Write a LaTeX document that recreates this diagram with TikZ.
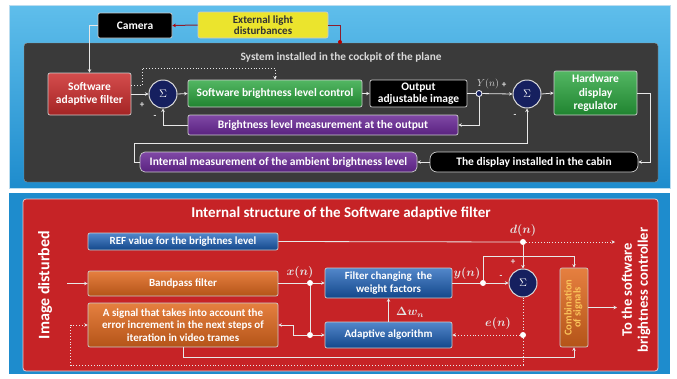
\documentclass[tikz,border=0pt]{standalone}
\usepackage{fontspec}
\setmainfont{Carlito}
\usepackage{amsmath,bm}
\usetikzlibrary{arrows.meta,positioning,calc}
\definecolor{skyblue}{RGB}{30,140,205}
\definecolor{skylight}{RGB}{95,190,235}
\definecolor{cockpit}{RGB}{58,58,58}
\definecolor{boxred}{RGB}{205,45,45}
\definecolor{boxgreen}{RGB}{40,165,60}
\definecolor{boxpurple}{RGB}{105,40,150}
\definecolor{boxyellow}{RGB}{235,228,45}
\definecolor{sumnavy}{RGB}{22,32,95}
\definecolor{panelred}{RGB}{198,35,38}
\definecolor{boxblue}{RGB}{25,95,185}
\definecolor{boxorange}{RGB}{225,105,30}
\definecolor{combtext}{RGB}{250,195,90}
\definecolor{wire}{RGB}{232,232,232}
\definecolor{lightwire}{RGB}{140,30,45}
\begin{document}
\begin{tikzpicture}[x=1pt,y=-1pt,
    box/.style={draw=white!80!black, line width=0.7pt, rounded corners=2pt, text=white,
      font=\bfseries\fontsize{11.5}{12.5}\selectfont, align=center, inner sep=1pt},
    smallbox/.style={box, font=\bfseries\fontsize{11}{12.5}\selectfont},
    redbox/.style={box, top color=boxred!85!white, bottom color=boxred!80!black},
    greenbox/.style={box, top color=boxgreen!80!white, bottom color=boxgreen!80!black},
    purplebox/.style={box, top color=boxpurple!85!white, bottom color=boxpurple!85!black},
    blackbox/.style={box, fill=black},
    bluebox/.style={smallbox, top color=boxblue!75!white, bottom color=boxblue!75!black},
    orangebox/.style={smallbox, top color=boxorange!85!white, bottom color=boxorange!80!black},
    sumnode/.style={circle, draw=white!85!black, line width=1pt, fill=sumnavy, text=white,
      minimum size=28pt, inner sep=0pt, font=\fontsize{11}{11}\selectfont},
    dot/.style={circle, fill=white, minimum size=6pt, inner sep=0pt},
    wline/.style={draw=wire, line width=0.8pt},
    dotline/.style={draw=wire, line width=0.9pt, dotted},
    tip/.style={-{Stealth[length=3.5pt,width=3.5pt]}},
    sign/.style={text=wire, font=\bfseries\fontsize{9}{9}\selectfont, inner sep=0pt},
    siglabel/.style={text=white!90!black, font=\boldmath\fontsize{11.5}{11.5}\selectfont, inner sep=0pt}]
\useasboundingbox (0,0) rectangle (677,378);
\fill[white] (0,0) rectangle (677,378);

% top panel: system in the cockpit
\shade[top color=skylight, bottom color=skyblue, draw=white!70!skyblue] (9,5) rectangle (670,188);
\fill[cockpit, draw=white!60!black, rounded corners=3pt] (24,43) rectangle (658,182);
\node[text=white!85!black, font=\bfseries\fontsize{11.3}{12}\selectfont] (systitle) at (341,57) {System installed in the cockpit of the plane};

\node[blackbox, minimum width=74pt, minimum height=25pt] (cam) at (135,25.5) {Camera};
\node[box, fill=boxyellow, text=black!80, minimum width=130pt, minimum height=26pt, font=\bfseries\fontsize{11}{11.5}\selectfont] (ext) at (263,25) {External light\\disturbances};
\node[redbox, minimum width=83pt, minimum height=42pt] (saf) at (89.5,94) {Software\\adaptive filter};
\node[sumnode] (sumA) at (163,94) {$\Sigma$};
\node[greenbox, minimum width=174pt, minimum height=27pt] (ctrl) at (275,93.5) {Software brightness level control};
\node[blackbox, minimum width=97pt, minimum height=27pt, font=\bfseries\fontsize{11.5}{11.5}\selectfont] (out) at (418.5,93.5) {Output\\adjustable image};
\node[circle, fill=sumnavy, draw=white, line width=0.8pt, minimum size=6pt, inner sep=0pt] (ynode) at (479,93.5) {};
\node[sumnode] (sumB) at (527,94) {$\Sigma$};
\node[greenbox, minimum width=83pt, minimum height=44pt, font=\bfseries\fontsize{11.5}{13.5}\selectfont] (hw) at (595.5,93) {Hardware\\display\\regulator};
\node[purplebox, minimum width=270pt, minimum height=20pt] (meas) at (323,125) {Brightness level measurement at the output};
\node[purplebox, rounded corners=5pt, minimum width=277pt, minimum height=20pt] (amb) at (278.5,162) {Internal measurement of the ambient brightness level};
\node[blackbox, rounded corners=7pt, minimum width=208pt, minimum height=20pt] (disp) at (534,162) {The display installed in the cabin};

\coordinate (lightin) at (340,42);
\draw[draw=lightwire, line width=1pt, -{Stealth[length=3.5pt,width=3.5pt,red!70!black]}] (ext.west) -- (cam.east);
\draw[draw=lightwire, line width=1pt] (ext.east) -| (lightin);
\fill[red!70!black] (lightin) circle (2pt);
\draw[wline, tip] (cam.west) -| (saf.north);
\draw[wline, tip] (saf.east) -- (sumA.west);
\draw[dotline, tip] ($(saf.east)+(0,-9)$) -- ++(11,0) |- (ctrl.north |- 0,68) -- (ctrl.north);
\draw[wline, tip] (sumA.east) -- (ctrl.west);
\draw[wline, tip] (ctrl.east) -- (out.west);
\draw[wline] (out.east) -- (ynode);
\draw[wline, tip] (ynode) -- (sumB.west);
\draw[wline, tip] (sumB.east) -- (hw.west);
\draw[wline, tip] (ynode) |- (meas.east);
\draw[wline, tip] (meas.west) -| (sumA.south);
\draw[wline, tip] (hw.east) -- ++(13,0) |- (disp.east);
\draw[wline, tip] (disp.west) -- (amb.east);
\draw[wline, tip] (amb.west) -- ++(-5,0) |- ($(sumB.south)+(0,35)$) -- (sumB.south);

\node[sign] at (142,105) {+};
\node[sign] at (155,117) {-};
\node[sign] at (504,85) {+};
\node[sign] at (515,116) {-};
\node[text=white!85!black, font=\fontsize{10}{10}\selectfont, inner sep=0pt] (ylabel) at (488,84) {$Y(n)$};

% bottom panel: internal structure of the filter
\fill[skyblue] (9,193) rectangle (670,374);
\fill[panelred, draw=white!75!panelred, line width=0.8pt, rounded corners=3pt] (23,199) rectangle (658,371);
\node[text=white, font=\bfseries\fontsize{15}{15}\selectfont] (inttitle) at (341,213) {Internal structure of the Software adaptive filter};
\node[text=white, font=\bfseries\fontsize{16}{16}\selectfont, rotate=90] (imgdist) at (45,285) {Image disturbed};
\node[text=white, font=\bfseries\fontsize{14.5}{16}\selectfont, rotate=90, align=center] (toctl) at (636,290) {To the software\\brightness controller};

\node[bluebox, minimum width=190pt, minimum height=17pt] (ref) at (183,241.5) {REF value for the brightnes level};
\node[orangebox, minimum width=190pt, minimum height=25pt] (bp) at (183,283.5) {Bandpass filter};
\node[orangebox, minimum width=190pt, minimum height=44pt] (sig) at (183,325) {A signal that takes into account the\\error increment in the next steps of\\iteration in video trames};
\node[bluebox, minimum width=127pt, minimum height=30pt] (wf) at (388.5,283) {Filter changing\ \ the\\weight factors};
\node[bluebox, minimum width=127pt, minimum height=26pt] (ad) at (388.5,335) {Adaptive algorithm};
\node[sumnode] (sumC) at (523,283) {$\Sigma$};
\node[orangebox, minimum width=28pt, minimum height=79pt, text=combtext, font=\bfseries\fontsize{10.5}{11}\selectfont] (comb) at (574,307.5)
  {\rotatebox{90}{\begin{tabular}{@{}c@{}}Combination\\[-2pt]of signals\end{tabular}}};

\node[dot] (dnode) at (523,242) {};
\node[dot] (xnode) at (310,283) {};
\node[dot] (xjunc) at (310,335) {};
\node[dot] (yfork) at (483,283) {};
\node[dot] (enode) at (523,335) {};
\coordinate (imgin) at (67,283.5);
\coordinate (refout) at (615,242);
\coordinate (combout) at (617,307.5);

\draw[wline, tip] (imgin) -- (bp.west);
\draw[wline] (ref.east) -- (dnode);
\draw[dotline, tip] (dnode) -- (refout);
\draw[wline, tip] (dnode) -- (sumC.north);
\draw[wline] (bp.east |- xnode) -- (xnode);
\draw[wline, tip] (xnode) -- (wf.west);
\draw[wline] (xnode) -- (xjunc);
\draw[wline, tip] (xjunc) -- (ad.west);
\draw[wline, tip] (xjunc) -- ++(-17,0) |- (sig.east);
\draw[wline, tip] (ad.north) -- (wf.south);
\draw[wline] (wf.east) -- (yfork);
\draw[wline, tip] (yfork) -- (sumC.west);
\draw[wline, tip] (yfork) -- ++(0,-27) -| (comb.north);
\draw[dotline] (sumC.south) -- (enode);
\draw[dotline, tip] (enode) -- (ad.east);
\draw[dotline, tip] (enode) -- ++(0,30) -| ($(sig.west)+(-17,0)$) -- (sig.west);
\draw[wline, tip] (sig.south) -- ++(0,10) -| (comb.south);
\draw[wline, tip] (comb.east) -- (combout);

\node[siglabel] (dlabel) at (523,230) {$d(n)$};
\node[siglabel] (xlabel) at (300,272) {$x(n)$};
\node[siglabel] (ylab) at (467,273) {$y(n)$};
\node[siglabel] (elabel) at (498,323) {$e(n)$};
\node[siglabel] (dwlabel) at (410,312) {$\Delta w_n$};
\node[sign] at (513,262) {+};
\node[sign] at (501,277) {-};
\end{tikzpicture}
\end{document}
